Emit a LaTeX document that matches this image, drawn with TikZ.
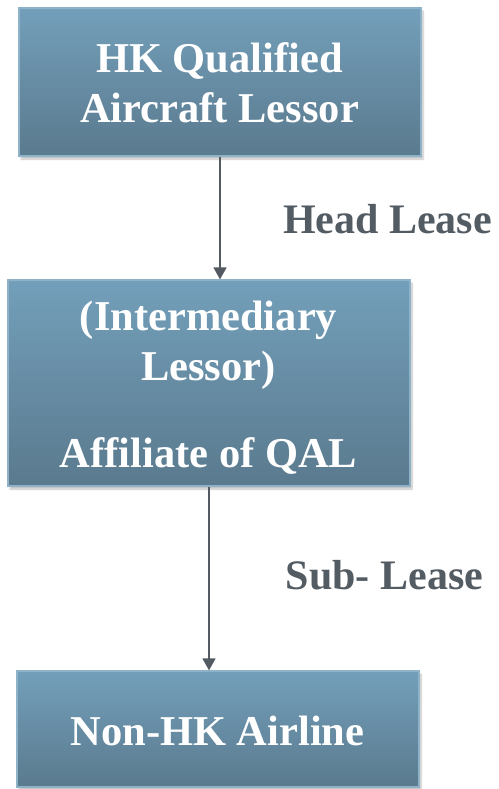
\documentclass[tikz,border=0pt]{standalone}
\usepackage{fontspec}
\setmainfont{Liberation Serif}
\usetikzlibrary{arrows.meta,shadows.blur}
\definecolor{boxtop}{HTML}{739FBA}
\definecolor{boxbot}{HTML}{5A7A8E}
\definecolor{boxedge}{HTML}{8EB2C8}
\definecolor{arrowc}{HTML}{535A62}
\definecolor{labelc}{HTML}{535B63}
\tikzset{
  x=1pt,y=1pt,
  boxstyle/.style={draw=boxedge,line width=1.2pt,top color=boxtop,bottom color=boxbot,
    rectangle,inner sep=0pt,minimum width=402pt,
    blur shadow={shadow xshift=2pt,shadow yshift=-3pt,shadow blur steps=6,shadow opacity=25}},
  boxtext/.style={anchor=base,text=white,inner sep=0pt,font=\fontsize{42.5}{50}\selectfont\bfseries},
  lbl/.style={anchor=base,text=labelc,inner sep=0pt,font=\fontsize{42}{48}\selectfont\bfseries},
  conn/.style={draw=arrowc,line width=1.3pt,-{Triangle[width=13pt,length=12pt]}}
}
\begin{document}
\begin{tikzpicture}
\useasboundingbox (0,0) rectangle (498,-789);
% boxes
\node[boxstyle,minimum height=148pt] (b1) at (220,-82) {};
\node[boxstyle,minimum height=206pt] (b2) at (209,-383) {};
\node[boxstyle,minimum height=116pt] (b3) at (218,-729) {};
% texts
\node[boxtext] (t1a) at (219.5,-73) {HK Qualified};
\node[boxtext] (t1b) at (219.5,-123) {Aircraft Lessor};
\node[boxtext] (t2a) at (208.5,-330) {(Intermediary};
\node[boxtext] (t2b) at (208.5,-380) {Lessor)};
\node[boxtext] (t2c) at (208.5,-467) {Affiliate of QAL};
\node[boxtext] (t3a) at (217.5,-745) {Non-HK Airline};
% labels
\node[lbl] (l1) at (387.5,-233) {Head Lease};
\node[lbl] (l2) at (384.5,-589) {Sub- Lease};
% connectors
\draw[conn] (b1.south) -- (b1.south |- b2.north);
\draw[conn] (b2.south) -- (b2.south |- b3.north);
\end{tikzpicture}
\end{document}
